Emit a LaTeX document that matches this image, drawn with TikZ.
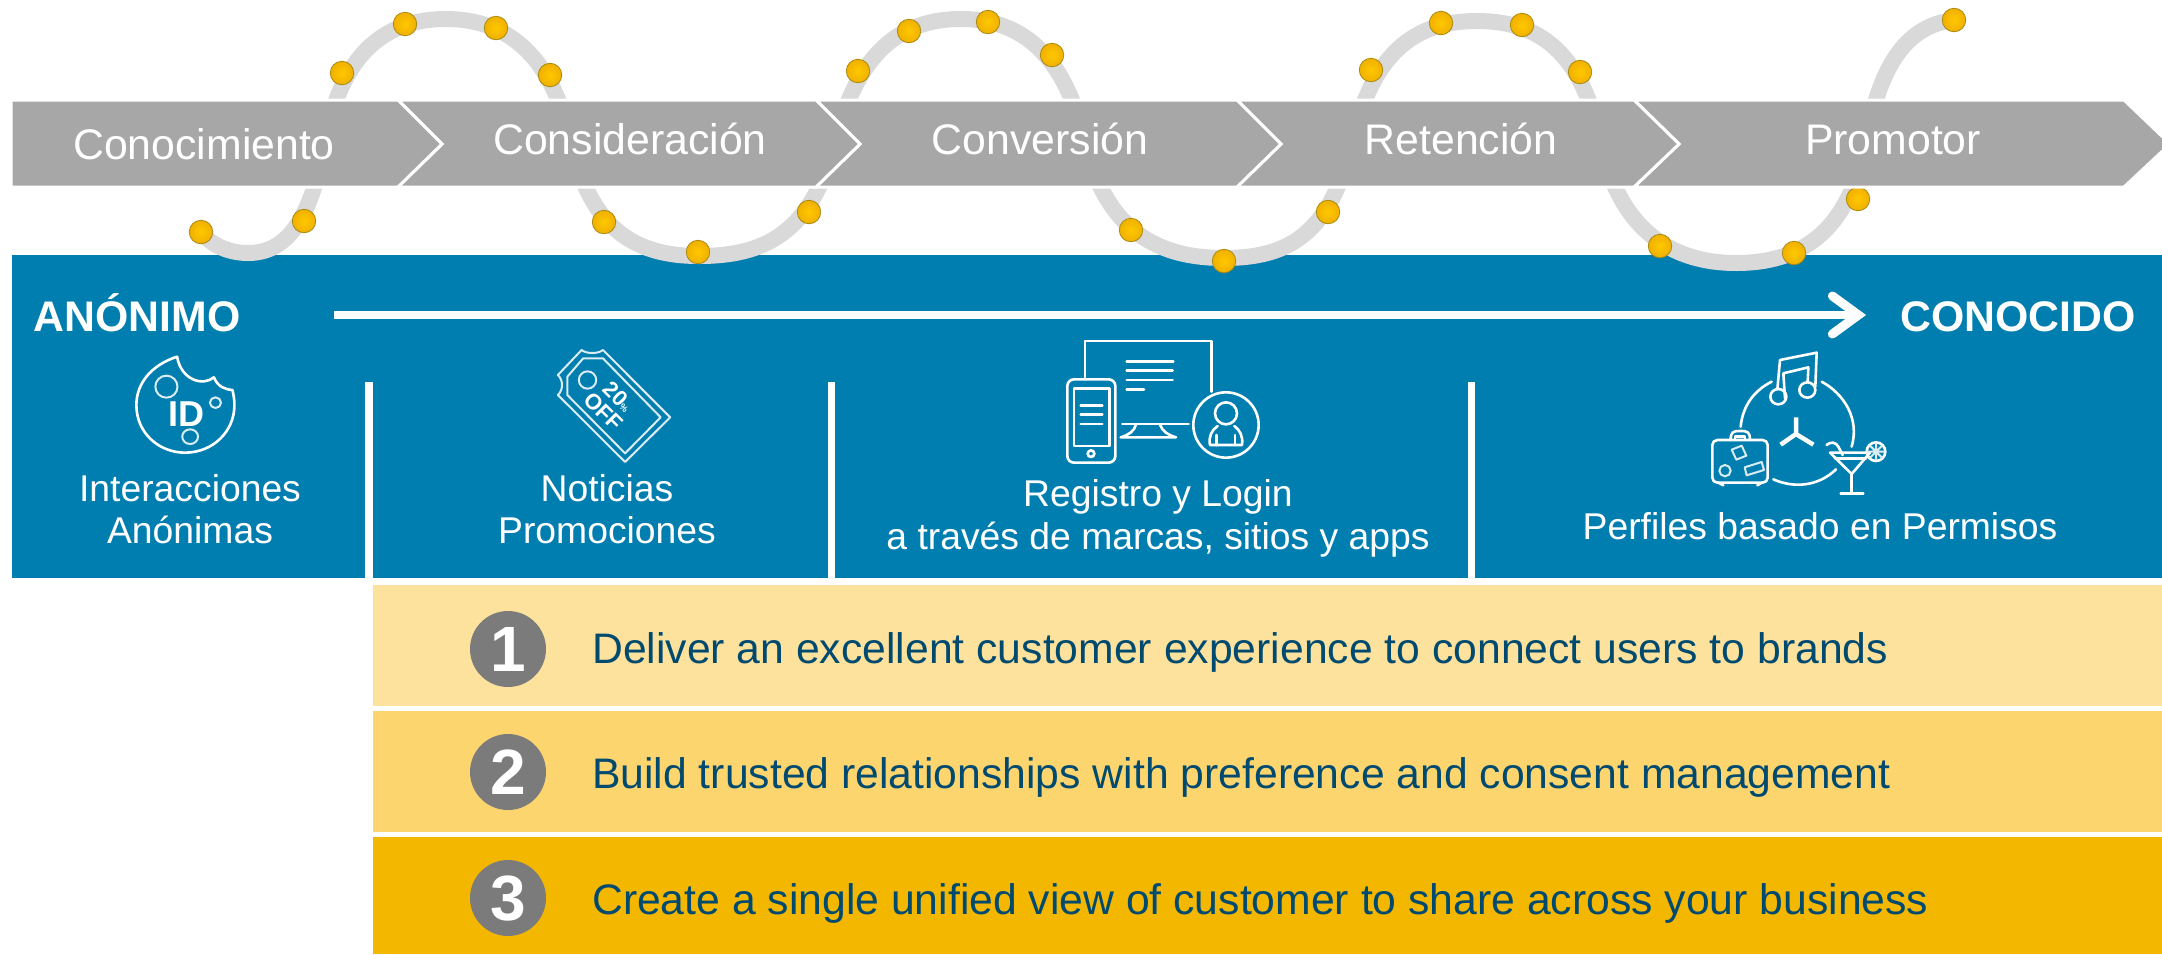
\documentclass[tikz,border=0pt]{standalone}
\usepackage{fontspec}
\setmainfont{Liberation Sans}
\usetikzlibrary{arrows.meta}
\definecolor{chev}{HTML}{A7A7A7}
\definecolor{band}{HTML}{D9D9D9}
\definecolor{panel}{HTML}{017EB0}
\definecolor{dotc}{HTML}{FFC800}
\definecolor{dotd}{HTML}{F0B000}
\definecolor{dotl}{HTML}{A98A10}
\definecolor{yA}{HTML}{FDE29D}
\definecolor{yB}{HTML}{FDD56F}
\definecolor{yC}{HTML}{F4B700}
\definecolor{ink}{HTML}{004A70}
\definecolor{disc}{HTML}{7B7B7B}
\tikzset{
  chevron/.style={fill=chev,draw=white,line width=3pt,miter limit=10},
  stagelabel/.style={text=white,font=\fontsize{42.8}{43}\selectfont,anchor=base,inner sep=0pt},
  panellabel/.style={text=white,font=\fontsize{37.3}{38}\selectfont,anchor=base,inner sep=0pt},
  endlabel/.style={text=white,font=\fontsize{42.8}{43}\selectfont\bfseries,anchor=base,inner sep=0pt},
  ribbon/.style={draw=band,line width=16pt},
  bead/.style={circle,inner color=dotc,outer color=dotd,draw=dotl,line width=0.8pt,minimum size=23.5pt,inner sep=0pt},
  rowtext/.style={text=ink,font=\fontsize{42.7}{43}\selectfont,anchor=base west,inner sep=0pt},
  rowdisc/.style={circle,fill=disc,minimum size=76pt,inner sep=0pt,text=white,font=\fontsize{64}{64}\selectfont\bfseries},
  divider/.style={fill=white},
  iconline/.style={draw=white,line width=2.6pt,line join=round,line cap=round},
  iconthin/.style={draw=white!85!panel,line width=2pt,line join=round,line cap=round},
}
\begin{document}
\begin{tikzpicture}[x=1pt,y=-1pt]
\useasboundingbox (0,0) rectangle (2162,954);
% panel
\fill[panel] (12,255) rectangle (2162,578);
\fill[divider] (365,382) rectangle (373,580);
\fill[divider] (828,382) rectangle (835,580);
\fill[divider] (1468,382) rectangle (1475,580);
% ribbon
\draw[ribbon] (201,232) .. controls (212,246) and (230,253) .. (248,253)
 .. controls (288,253) and (311,218) .. (325,143)
 .. controls (341,53) and (386,19) .. (446,19)
 .. controls (505,19) and (552,53) .. (571,143)
 .. controls (592,233) and (639,256) .. (699,256)
 .. controls (765,256) and (811,233) .. (835,143)
 .. controls (857,53) and (900,19) .. (961,19)
 .. controls (1020,19) and (1065,53) .. (1085,143)
 .. controls (1107,233) and (1160,258) .. (1224,258)
 .. controls (1290,258) and (1330,233) .. (1352,143)
 .. controls (1372,53) and (1415,21) .. (1477,21)
 .. controls (1540,21) and (1582,53) .. (1601,143)
 .. controls (1620,233) and (1675,263) .. (1736,263)
 .. controls (1800,263) and (1848,233) .. (1866,143)
 .. controls (1880,60) and (1910,25) .. (1954,20);
% beads
\foreach \n/\p in {a/{201,232},b/{304,221},c/{342,73},d/{405,24},e/{496,28},f/{550,75},g/{604,222},h/{698,252},i/{809,212},j/{858,71},k/{909,31},l/{988,22},m/{1052,55},n/{1131,230},o/{1224,261},p/{1328,212},q/{1371,70},r/{1441,23},s/{1522,25},t/{1580,72},u/{1660,246},v/{1794,253},w/{1858,199},x/{1954,20}}
  \node[bead] (bead\n) at (\p) {};
% chevrons
\draw[chevron] (1634,100)--(2124,100)--(2170,144)--(2124,187)--(1634,187)--(1679,144)--cycle;
\draw[chevron] (1237,100)--(1634,100)--(1679,144)--(1634,187)--(1237,187)--(1281,144)--cycle;
\draw[chevron] (816,100)--(1237,100)--(1281,144)--(1237,187)--(816,187)--(860,144)--cycle;
\draw[chevron] (398,100)--(816,100)--(860,144)--(816,187)--(398,187)--(442,144)--cycle;
\draw[chevron] (11,100)--(398,100)--(442,144)--(398,187)--(11,187)--cycle;
\node[stagelabel] (s1) at (204,159) {Conocimiento};
\node[stagelabel] (s2) at (630,154) {Consideración};
\node[stagelabel] (s3) at (1040,154) {Conversión};
\node[stagelabel] (s4) at (1461,154) {Retención};
\node[stagelabel] (s5) at (1893,154) {Promotor};
% arrow row
\node[endlabel] (anon) at (137,331) {ANÓNIMO};
\node[endlabel] (known) at (2018,331) {CONOCIDO};
\coordinate (arrowA) at (334,315);
\coordinate (arrowB) at (1866,315);
\draw[white,line width=8pt,-{Straight Barb[length=26pt,width=38pt,line width=9pt,line cap=round]}] (arrowA) -- (arrowB);
% panel labels
\node[panellabel] (l1a) at (190,501) {Interacciones};
\node[panellabel] (l1b) at (190,543) {Anónimas};
\node[panellabel] (l2a) at (607,501) {Noticias};
\node[panellabel] (l2b) at (607,543) {Promociones};
\node[panellabel] (l3a) at (1158,506) {Registro y Login};
\node[panellabel] (l3b) at (1158,549) {a través de marcas, sitios y apps};
\node[panellabel] (l4) at (1820,539) {Perfiles basado en Permisos};
% rows
\fill[yA] (373,585) rectangle (2162,706);
\fill[yB] (373,711) rectangle (2162,832);
\fill[yC] (373,837) rectangle (2162,954);
\node[rowdisc] (n1) at (508,649) {1};
\node[rowdisc] (n2) at (508,772) {2};
\node[rowdisc] (n3) at (508,898) {3};
\node[rowtext] (r1) at (592,663) {Deliver an excellent customer experience to connect users to brands};
\node[rowtext] (r2) at (592,788) {Build trusted relationships with preference and consent management};
\node[rowtext] (r3) at (592,914) {Create a single unified view of customer to share across your business};
% cookie icon
\begin{scope}[shift={(100,330)},x=0.3954pt,y=-0.3333pt]
\draw[iconline] (195,80) .. controls (130,105) and (92,160) .. (92,225) .. controls (92,310) and (150,368) .. (215,368) .. controls (285,368) and (340,305) .. (340,225) .. controls (340,210) and (338,195) .. (335,180) .. controls (315,178) and (298,170) .. (288,142) .. controls (260,170) and (205,150) .. (195,80);
\draw[iconthin] (168,170) ellipse [x radius=28,y radius=33];
\draw[iconthin] (292,218) ellipse [x radius=14,y radius=16];
\draw[iconthin] (228,320) ellipse [x radius=20,y radius=22];
\node[text=white,font=\fontsize{36}{36}\selectfont\bfseries,inner sep=0pt] (idtext) at (218,253) {ID};
\end{scope}
% tag icon
\begin{scope}[shift={(100,330)},x=0.3954pt,y=-0.3333pt]
\draw[iconthin] (1218,60) .. controls (1230,72) and (1260,72) .. (1272,60) -- (1442,262) -- (1328,396) -- (1158,195) .. controls (1172,180) and (1172,150) .. (1158,135) -- cycle;
\draw[iconthin] (1222,85) -- (1272,85) -- (1418,262) -- (1328,370) -- (1182,195) -- (1182,140) -- cycle;
\draw[iconthin] (1233,150) ellipse [x radius=22,y radius=26];
\node[text=white,font=\fontsize{22}{21}\selectfont\bfseries,inner sep=0pt,rotate=-45,align=center] (tagtext) at (1292,222) {20\fontsize{9}{21}\selectfont\%\\OFF};
\end{scope}
% devices icon
\begin{scope}[shift={(1030,320)},x=0.3333pt,y=-0.3333pt]
\draw[iconline] (165,172) -- (165,63) -- (545,63) -- (545,215);
\foreach \yy/\xx in {124/430,152/428,180/428,208/342} \draw[iconline] (290,\yy) -- (\xx,\yy);
\draw[iconline] (277,312) -- (476,312);
\draw[iconline] (318,314) .. controls (312,335) and (295,345) .. (272,352) -- (438,352) .. controls (415,345) and (397,335) .. (390,314);
\draw[iconline,rounded corners=6.7pt] (112,178) rectangle (256,428);
\draw[iconline] (132,205) rectangle (238,378);
\foreach \yy in {256,284,312} \draw[iconline] (152,\yy) -- (217,\yy);
\draw[iconline] (183,401) circle [radius=10];
\draw[iconline] (588,315) circle [radius=98];
\draw[iconline] (588,280) circle [radius=33];
\draw[iconline] (563,318) .. controls (545,330) and (535,350) .. (540,375) -- (636,375) .. controls (640,350) and (630,330) .. (613,318);
\draw[iconline] (560,345) -- (560,375) (615,345) -- (615,375);
\end{scope}
% permissions icon
\begin{scope}[shift={(1670,330)},x=0.3333pt,y=-0.3333pt]
\draw[iconline] (305,155) .. controls (255,180) and (218,225) .. (212,290);
\draw[iconline] (455,155) .. controls (520,190) and (570,265) .. (545,350);
\draw[iconline] (310,448) .. controls (370,475) and (445,470) .. (498,418);
\draw[iconline] (322,178) -- (330,90) -- (440,68) -- (436,170);
\draw[iconline] (345,205) -- (340,130) -- (415,112) -- (413,155);
\draw[iconline] (325,200) ellipse [x radius=24,y radius=23];
\draw[iconline] (412,180) ellipse [x radius=24,y radius=23];
\draw[white,line width=4.5pt] (378,262) -- (378,312) (378,312) -- (332,344) (378,312) -- (430,344);
\draw[iconline,rounded corners=5pt] (127,330) rectangle (293,458);
\draw[iconline] (182,330) .. controls (182,305) and (190,303) .. (210,303) .. controls (232,303) and (240,305) .. (240,330);
\draw[iconline] (195,330) -- (195,320) -- (225,320) -- (225,330);
\draw[iconline] (145,458) -- (160,466) (262,466) -- (275,458);
\draw[iconthin] (207,367) +(-22,-8) -- +(8,-20) -- +(22,10) -- +(-8,22) -- cycle;
\draw[iconthin] (165,422) circle [radius=17];
\draw[iconthin] (224,412) -- (275,396) -- (282,420) -- (230,436) -- cycle;
\draw[iconline] (480,368) -- (600,368) -- (545,432) -- cycle;
\draw[iconline] (495,385) -- (588,385);
\draw[iconline] (545,432) -- (545,488) (512,490) -- (580,490);
\draw[iconline] (470,345) .. controls (480,335) and (498,335) .. (505,350) -- (518,375);
\draw[iconline] (618,365) circle [radius=28];
\draw[iconthin] (618,340) -- (618,390) (594,365) -- (642,365) (600,347) -- (636,383) (636,347) -- (600,383);
\end{scope}
\end{tikzpicture}
\end{document}
